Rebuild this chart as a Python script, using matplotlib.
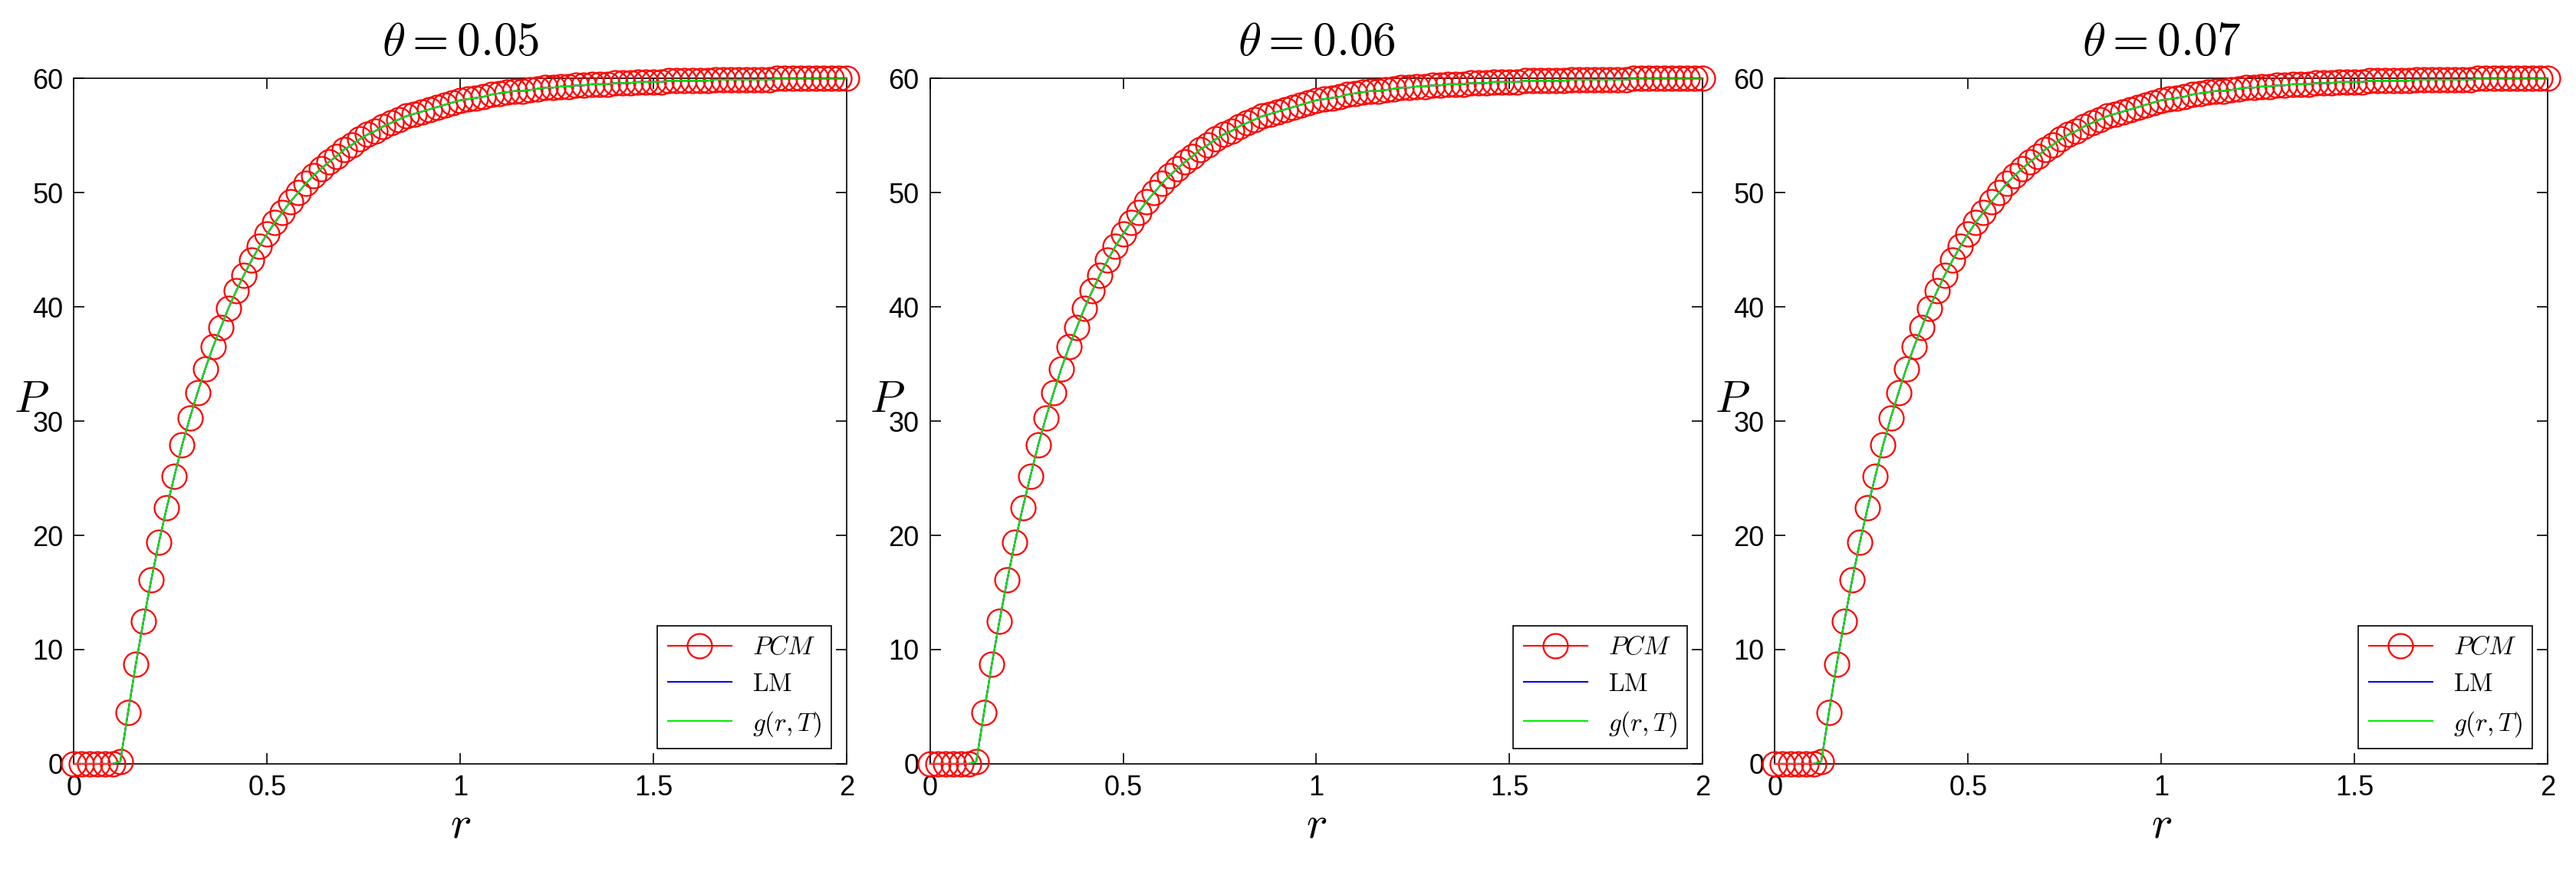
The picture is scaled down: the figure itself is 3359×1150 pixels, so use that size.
import numpy as np
import matplotlib
matplotlib.use("Agg")
import matplotlib.pyplot as plt

plt.rcParams['mathtext.fontset'] = 'cm'
plt.rcParams['font.family'] = ['Liberation Sans Narrow', 'Liberation Sans', 'DejaVu Sans']

thetas = ["0.05", "0.06", "0.07"]
r = np.linspace(0, 2, 101)
P = [0, 0, 0, 0, 0, 0, 0.2,
     4.5, 8.7, 12.5, 16.1, 19.4, 22.4, 25.2, 27.9, 30.3, 32.5, 34.6, 36.5, 38.2, 39.9,
     41.4, 42.8, 44.1, 45.3, 46.4, 47.4, 48.3, 49.2, 50.0, 50.8, 51.5, 52.1, 52.7, 53.2,
     53.8, 54.2, 54.7, 55.1, 55.4, 55.8, 56.1, 56.4, 56.7, 56.9, 57.1,
     57.3, 57.5, 57.7, 57.9, 58.1, 58.2, 58.3, 58.4, 58.6, 58.7, 58.8, 58.9, 58.9, 59.0,
     59.1, 59.2, 59.2, 59.3, 59.3, 59.4, 59.4, 59.5, 59.5, 59.5, 59.6,
     59.6, 59.6, 59.7, 59.7, 59.7,
     59.7, 59.8, 59.8, 59.8, 59.8,
     59.8, 59.8, 59.9, 59.9, 59.9,
     59.9, 59.9, 59.9, 59.9, 59.9, 60, 60, 60, 60, 60, 60, 60, 60, 60, 60]
P = np.array(P)

fig = plt.figure(figsize=(33.59, 11.5), dpi=100)
lefts = [0.0287, 0.361, 0.689]
for left, th in zip(lefts, thetas):
    ax = fig.add_axes([left, 0.134, 0.300, 0.777])
    ax.plot(r, P, color='red', marker='o', markersize=23, markerfacecolor='none',
            markeredgewidth=1.6, linewidth=1.5, label=r'$PCM$', clip_on=False, zorder=3)
    ax.plot(r, P, color='blue', linewidth=1.5, label=r'$\mathrm{LM}$', zorder=4)
    ax.plot(r, P, color='#00ee00', linewidth=1.5, label=r'$g(r,T)$', zorder=5)
    ax.set_xlim(0, 2)
    ax.set_ylim(0, 60)
    ax.set_xticks([0, 0.5, 1, 1.5, 2])
    ax.set_xticklabels(['0', '0.5', '1', '1.5', '2'])
    ax.set_yticks([0, 10, 20, 30, 40, 50, 60])
    ax.tick_params(direction='in', top=True, right=True, labelsize=26, length=10, width=1.2, pad=10)
    for s in ax.spines.values():
        s.set_linewidth(1.2)
    ax.set_title(r'$\theta = %s$' % th, fontsize=44, pad=22)
    ax.set_xlabel(r'$r$', fontsize=42)
    ax.set_ylabel(r'$P$', fontsize=42, rotation=0)
    ax.yaxis.set_label_coords(-0.055, 0.5)
    leg = ax.legend(loc='lower right', fontsize=24, fancybox=False, edgecolor='black',
                    framealpha=1, handlelength=2.5, borderaxespad=0.6)
    leg.get_frame().set_linewidth(1.2)
    leg.set_zorder(10)

fig.savefig('out.png', dpi=100)
